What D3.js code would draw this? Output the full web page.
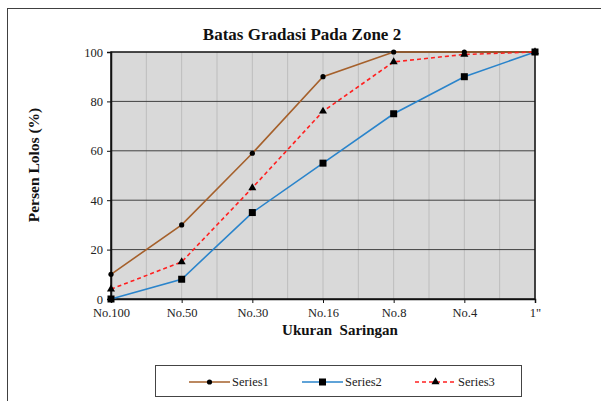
<!DOCTYPE html>
<html>
<head>
<meta charset="utf-8">
<script src="https://cdn.jsdelivr.net/npm/d3@7/dist/d3.min.js"></script>
<style>
  body { margin: 0; background: #fff; }
</style>
</head>
<body>
<script>
// data
var sieves = ["No.100", "No.50", "No.30", "No.16", "No.8", "No.4", "1\""]
var series1 = [10, 30, 59, 90, 100, 100, 100]
var series2 = [0, 8, 35, 55, 75, 90, 100]
var series3 = [4, 15, 45, 76, 96, 99, 100]
var yTicks = [0, 20, 40, 60, 80, 100]

var width = 601, height = 401
var plot = {left: 111, right: 535, top: 52, bottom: 299}
var serif = "Liberation Serif"

var svg = d3.select("body").append("svg")
    .attr("width", width)
    .attr("height", height)

// outer frame
svg.append("rect")
    .attr("x", 7.5).attr("y", 8.5)
    .attr("width", 620).attr("height", 420)
    .attr("fill", "#fff")
    .attr("stroke", "#404040")
    .attr("stroke-width", 1)

var x = d3.scalePoint(sieves, [plot.left, plot.right])
var y = d3.scaleLinear([0, 100], [plot.bottom, plot.top])

// plot background
svg.append("rect")
    .attr("x", plot.left).attr("y", plot.top)
    .attr("width", plot.right - plot.left)
    .attr("height", plot.bottom - plot.top)
    .attr("fill", "#d9d9d9")

// vertical grid lines, also half way between categories
var step = x.step()
var vgrid = []
sieves.forEach(function(s, i) {
    vgrid.push(x(s))
    if (i < sieves.length - 1) vgrid.push(x(s) + step / 2)
})
svg.selectAll(".vgrid")
    .data(vgrid)
    .join("line")
    .attr("class", "vgrid")
    .attr("x1", d => d).attr("x2", d => d)
    .attr("y1", plot.top).attr("y2", plot.bottom)
    .attr("stroke", "#bdbdbd")
    .attr("stroke-width", 1)

// horizontal grid lines
svg.selectAll(".hgrid")
    .data(yTicks.slice(1, -1))
    .join("line")
    .attr("class", "hgrid")
    .attr("x1", plot.left).attr("x2", plot.right)
    .attr("y1", d => y(d)).attr("y2", d => y(d))
    .attr("stroke", "#404040")
    .attr("stroke-width", 1)

// plot border
svg.append("rect")
    .attr("x", plot.left).attr("y", plot.top)
    .attr("width", plot.right - plot.left)
    .attr("height", plot.bottom - plot.top)
    .attr("fill", "none")
    .attr("stroke", "#111")
    .attr("stroke-width", 1.5)

// axes
var yAxis = svg.append("g")
    .attr("transform", "translate(" + plot.left + ",0)")
    .call(d3.axisLeft(y).tickValues(yTicks).tickSize(4).tickPadding(4))
var xAxis = svg.append("g")
    .attr("transform", "translate(0," + plot.bottom + ")")
    .call(d3.axisBottom(x).tickSize(4).tickPadding(5))

;[yAxis, xAxis].forEach(function(g) {
    g.attr("font-family", serif)
    g.select(".domain").attr("stroke", "#111").attr("stroke-width", 1.5)
    g.selectAll(".tick line").attr("stroke", "#111")
    g.selectAll(".tick text")
        .attr("font-size", 12.5)
        .attr("fill", "#222")
})

// lines
var line = d3.line()
    .x((d, i) => x(sieves[i]))
    .y(d => y(d))

var seriesList = [
    {name: "Series1", values: series1, color: "#a5602b", dash: null, marker: "circle"},
    {name: "Series2", values: series2, color: "#2a84cb", dash: null, marker: "square"},
    {name: "Series3", values: series3, color: "#ff2020", dash: "4,3", marker: "triangle"}
]

function drawMarker(g, type, cx, cy) {
    if (type == "circle") {
        g.append("circle").attr("cx", cx).attr("cy", cy).attr("r", 2.6).attr("fill", "#000")
    } else if (type == "square") {
        g.append("rect").attr("x", cx - 3.5).attr("y", cy - 3.5)
            .attr("width", 7).attr("height", 7).attr("fill", "#000")
    } else {
        g.append("path")
            .attr("d", d3.symbol(d3.symbolTriangle, 28)())
            .attr("transform", "translate(" + cx + "," + cy + ")")
            .attr("fill", "#000")
    }
}

seriesList.forEach(function(s) {
    svg.append("path")
        .datum(s.values)
        .attr("d", line)
        .attr("fill", "none")
        .attr("stroke", s.color)
        .attr("stroke-width", 1.6)
        .attr("stroke-dasharray", s.dash)
})
seriesList.forEach(function(s) {
    var g = svg.append("g")
    s.values.forEach(function(v, i) {
        drawMarker(g, s.marker, x(sieves[i]), y(v))
    })
})

// titles
svg.append("text")
    .attr("x", 302).attr("y", 40)
    .attr("text-anchor", "middle")
    .attr("font-weight", "bold")
    .attr("font-size", 17)
    .attr("fill", "#111")
    .text("Batas Gradasi Pada Zone 2")

svg.append("text")
    .attr("x", 340).attr("y", 335)
    .attr("text-anchor", "middle")
    .attr("font-weight", "bold")
    .attr("font-size", 15)
    .attr("fill", "#111")
    .attr("xml:space", "preserve")
    .style("white-space", "pre")
    .text("Ukuran  Saringan")

svg.append("text")
    .attr("transform", "translate(39,165) rotate(-90)")
    .attr("text-anchor", "middle")
    .attr("font-weight", "bold")
    .attr("font-size", 15.5)
    .attr("fill", "#111")
    .text("Persen Lolos (%)")

// legend
svg.append("rect")
    .attr("x", 155.5).attr("y", 365.5)
    .attr("width", 366).attr("height", 31)
    .attr("fill", "#fff")
    .attr("stroke", "#444")
    .attr("stroke-width", 1)

var legendX = [189, 302, 415]
seriesList.forEach(function(s, i) {
    var lx = legendX[i], ly = 382
    var g = svg.append("g")
    g.append("line")
        .attr("x1", lx).attr("x2", lx + 41)
        .attr("y1", ly).attr("y2", ly)
        .attr("stroke", s.color)
        .attr("stroke-width", 1.6)
        .attr("stroke-dasharray", s.dash)
    drawMarker(g, s.marker, lx + 20.5, ly)
    g.append("text")
        .attr("x", lx + 43).attr("y", ly + 4)
        .attr("font-size", 12.5)
        .attr("fill", "#222")
        .text(s.name)
})

svg.selectAll("text").attr("font-family", serif)
</script>
</body>
</html>
